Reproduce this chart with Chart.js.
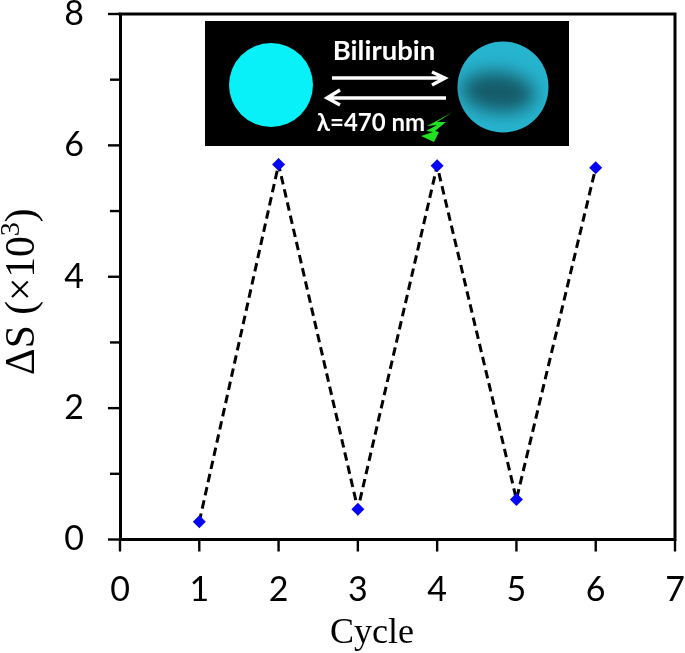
<!DOCTYPE html>
<html>
<head>
<meta charset="utf-8">
<style>
  html, body { margin: 0; padding: 0; background: #fff; }
  #wrap { position: relative; width: 685px; height: 653px; }
  canvas { display: block; }
</style>
<script src="https://cdn.jsdelivr.net/npm/chart.js@4"></script>
</head>
<body>
<div id="wrap"><canvas id="chart" width="685" height="653"></canvas></div>
<script>
const cycles = [1, 2, 3, 4, 5, 6];
const deltaS = [0.27, 5.71, 0.46, 5.69, 0.61, 5.66];
const xTicks = [0, 1, 2, 3, 4, 5, 6, 7];
const yTicks = [0, 1, 2, 3, 4, 5, 6, 7, 8];
const yLabelled = [0, 2, 4, 6, 8];

// box lines, tick marks and axis titles that Chart.js can't style this way
const frame = {
  id: 'frame',
  afterDraw(chart) {
    const { ctx, scales: { x, y } } = chart;
    ctx.save();
    ctx.strokeStyle = '#000';
    ctx.lineWidth = 3;
    ctx.lineCap = 'square';
    ctx.beginPath();
    ctx.moveTo(x.left, y.top);
    ctx.lineTo(x.right, y.top);
    ctx.lineTo(x.right, y.bottom);
    ctx.stroke();
    ctx.lineCap = 'butt';
    ctx.lineWidth = 2.4;
    yTicks.forEach(v => {
      const py = y.getPixelForValue(v);
      const len = yLabelled.includes(v) ? 12 : 10;
      ctx.beginPath();
      ctx.moveTo(x.left - len, py);
      ctx.lineTo(x.left, py);
      ctx.stroke();
    });
    xTicks.forEach(v => {
      const px = x.getPixelForValue(v);
      ctx.beginPath();
      ctx.moveTo(px, y.bottom);
      ctx.lineTo(px, y.bottom + 12);
      ctx.stroke();
    });
    ctx.fillStyle = '#000';
    ctx.textAlign = 'center';
    ctx.textBaseline = 'alphabetic';
    ctx.font = '36px "Liberation Serif"';
    ctx.fillText('Cycle', 372, 643);
    ctx.translate(34, 375);
    ctx.rotate(-Math.PI / 2);
    ctx.textAlign = 'left';
    ctx.font = '41.5px "Liberation Serif"';
    const base = '\u0394S (\u00d710';
    ctx.fillText(base, 0, 0);
    const w = ctx.measureText(base).width;
    ctx.font = '28px "Liberation Serif"';
    ctx.fillText('3', w, -15);
    const w2 = ctx.measureText('3').width;
    ctx.font = '41.5px "Liberation Serif"';
    ctx.fillText(')', w + w2, 0);
    ctx.restore();
    drawInset(ctx);
  }
};

function drawInset(ctx) {
  ctx.save();
  ctx.fillStyle = '#000';
  ctx.fillRect(205, 21, 364, 125);
  ctx.fillStyle = '#08f0f8';
  ctx.beginPath();
  ctx.arc(271, 85, 42, 0, Math.PI * 2);
  ctx.fill();

  // right spot: lighter rim with a darker blurred patch
  ctx.save();
  ctx.beginPath();
  ctx.arc(503, 87, 45.5, 0, Math.PI * 2);
  ctx.clip();
  ctx.fillStyle = '#27b4cf';
  ctx.fillRect(450, 35, 110, 105);
  ctx.filter = 'blur(9px)';
  ctx.fillStyle = '#155a68';
  ctx.beginPath();
  ctx.ellipse(498, 92, 37, 20, 0.1, 0, Math.PI * 2);
  ctx.fill();
  ctx.restore();

  ctx.fillStyle = '#fff';
  ctx.strokeStyle = '#fff';
  ctx.textAlign = 'center';
  ctx.font = 'bold 27.5px Lato';
  ctx.fillText('Bilirubin', 384, 60);
  ctx.font = 'bold 24px Lato';
  ctx.fillText('\u03bb=470 nm', 371, 131);
  ctx.lineWidth = 3.4;
  ctx.beginPath();
  ctx.moveTo(332, 78); ctx.lineTo(444, 78);
  ctx.moveTo(432, 72); ctx.lineTo(445, 78); ctx.lineTo(432, 85);
  ctx.moveTo(446, 98); ctx.lineTo(329, 98);
  ctx.moveTo(340, 90); ctx.lineTo(327, 98); ctx.lineTo(340, 105);
  ctx.stroke();
  ctx.fillStyle = '#22e022';
  ctx.beginPath();
  [[453,112],[427,126],[437,125],[426,131],[433,132],[421,136],[434,142],[439,132],[435,131],[446,122],[437,122]]
    .forEach(([a, b], i) => i ? ctx.lineTo(a, b) : ctx.moveTo(a, b));
  ctx.closePath();
  ctx.fill();
  ctx.restore();
}

new Chart(document.getElementById('chart'), {
  type: 'line',
  data: {
    datasets: [{
      data: cycles.map((c, i) => ({ x: c, y: deltaS[i] })),
      borderColor: '#000',
      borderWidth: 3,
      borderDash: [8.5, 5],
      pointStyle: 'rectRot',
      pointRadius: 6.5,
      pointBackgroundColor: '#0505f5',
      pointBorderColor: '#0505f5',
      pointBorderWidth: 0,
      tension: 0,
      fill: false
    }]
  },
  options: {
    responsive: false,
    animation: false,
    layout: { padding: { left: 0, right: 10, top: 14, bottom: 0 } },
    plugins: { legend: { display: false }, tooltip: { enabled: false } },
    scales: {
      x: {
        type: 'linear',
        min: 0,
        max: 7,
        afterBuildTicks: s => { s.ticks = xTicks.map(v => ({ value: v })); },
        afterFit: s => { s.height = 113.5; s.paddingLeft = 0; s.paddingRight = 0; },
        grid: { display: false },
        border: { color: '#000', width: 3 },
        ticks: {
          color: '#000',
          font: { family: 'Lato', size: 34 },
          padding: 22,
          maxRotation: 0
        }
      },
      y: {
        min: 0,
        max: 8,
        afterBuildTicks: s => { s.ticks = yLabelled.map(v => ({ value: v })); },
        afterFit: s => { s.width = 120; s.paddingTop = 0; s.paddingBottom = 0; },
        grid: { display: false },
        border: { color: '#000', width: 3 },
        ticks: {
          color: '#000',
          font: { family: 'Lato', size: 34 },
          padding: 28
        }
      }
    }
  },
  plugins: [frame]
});
</script>
</body>
</html>
